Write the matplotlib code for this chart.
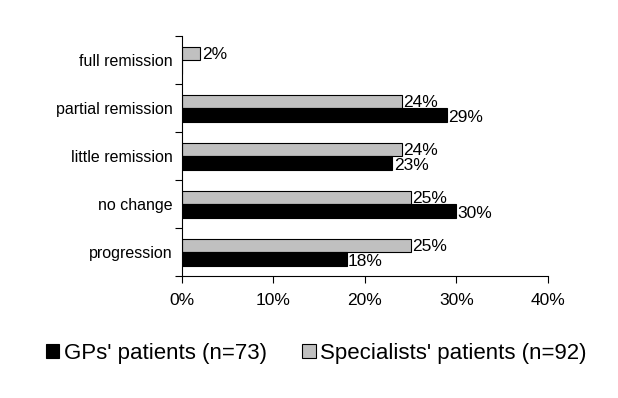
import numpy as np
import matplotlib.pyplot as plt

plt.rcParams['font.family'] = ['Liberation Sans', 'DejaVu Sans']

# categories top to bottom
categories = ['full remission', 'partial remission', 'little remission', 'no change', 'progression']
gp_values = [0, 29, 23, 30, 18]          # GPs' patients (n=73)
spec_values = [2, 24, 24, 25, 25]        # Specialists' patients (n=92)
x_ticks = [0, 10, 20, 30, 40]

fig = plt.figure(figsize=(6.18, 3.98), dpi=100)
ax = fig.add_axes([0.2945, 0.3065, 0.592, 0.603])

n = len(categories)
y = np.arange(n)[::-1]          # full remission at top
h = 0.29

ax.barh(y + 0.135, spec_values, height=h, color='#c0c0c0', edgecolor='black', linewidth=0.8)
ax.barh(y - 0.155, gp_values, height=h, color='black', edgecolor='black', linewidth=0.8)

for yi, v in zip(y, spec_values):
    ax.text(v + 0.15, yi + 0.12, f'{v}%', va='center', ha='left', fontsize=12.5)
for yi, v in zip(y, gp_values):
    if v > 0:
        ax.text(v + 0.15, yi - 0.19, f'{v}%', va='center', ha='left', fontsize=12.5)

ax.set_xlim(0, 40)
ax.set_ylim(-0.5, n - 0.5)
ax.set_xticks(x_ticks)
ax.set_xticklabels([f'{t}%' for t in x_ticks], fontsize=12.5)
ax.tick_params(axis='x', length=5, width=0.8, pad=7)

# ticks between categories, labels centred on them
ax.set_yticks(np.arange(-0.5, n, 1.0))
ax.set_yticklabels([])
ax.tick_params(axis='y', which='major', length=5, width=0.8)
ax.set_yticks(y, minor=True)
ax.set_yticklabels(categories, minor=True, fontsize=11.5)
ax.tick_params(axis='y', which='minor', length=0, pad=7)

for s in ['top', 'right']:
    ax.spines[s].set_visible(False)
ax.spines['left'].set_linewidth(0.8)
ax.spines['bottom'].set_linewidth(0.8)

handles = [plt.Rectangle((0, 0), 1, 1, facecolor='black', edgecolor='black', linewidth=0.8),
           plt.Rectangle((0, 0), 1, 1, facecolor='#c0c0c0', edgecolor='black', linewidth=0.8)]
fig.legend(handles, ["GPs' patients (n=73)", "Specialists' patients (n=92)"],
           loc='center', bbox_to_anchor=(0.512, 0.113), ncol=2, frameon=False,
           fontsize=16, handlelength=0.6, handleheight=0.6, handletextpad=0.2,
           columnspacing=1.6)

fig.savefig('out.png', dpi=100)
